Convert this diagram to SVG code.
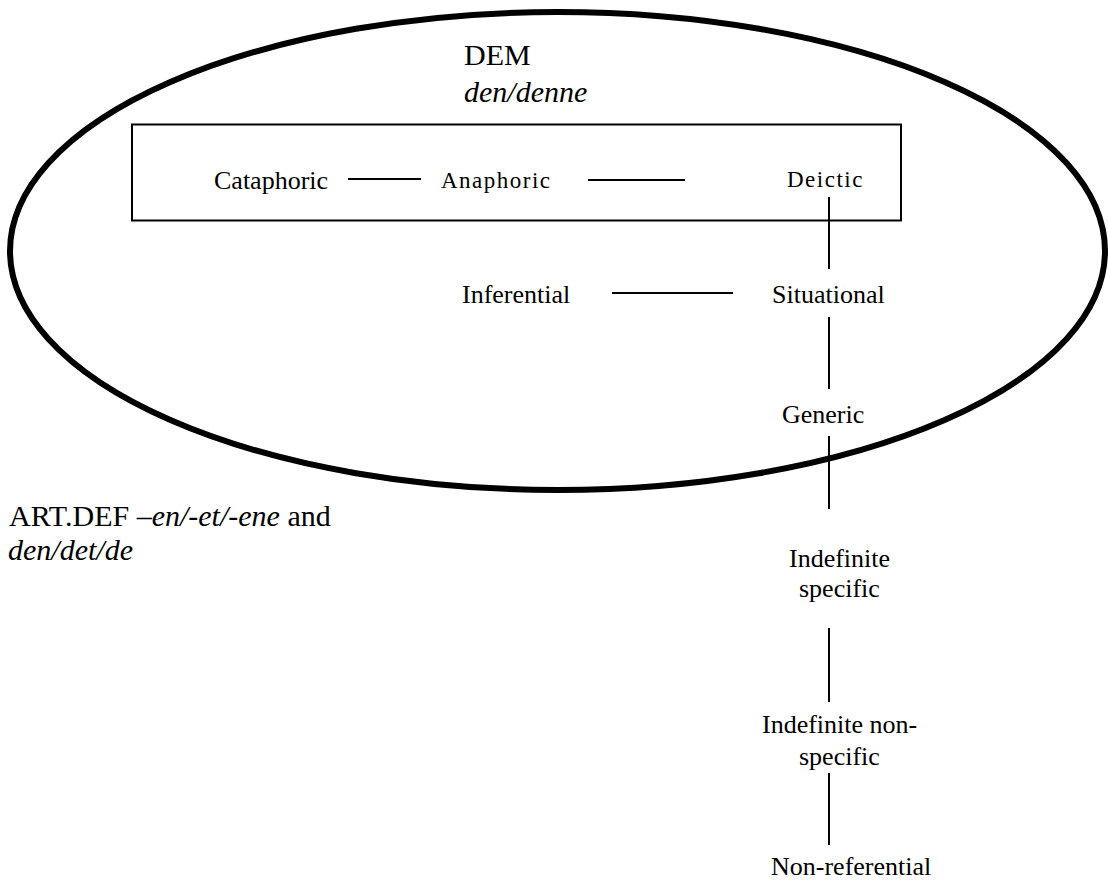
<svg xmlns="http://www.w3.org/2000/svg" width="1108" height="884" viewBox="0 0 1108 884">
<style>
text{font-family:'Liberation Serif','Times New Roman',Times,serif;font-size:26px;fill:#000}
.big{font-size:30px}
.it{font-style:italic}
.g{font-size:23px;letter-spacing:1.5px}
.ln{stroke:#000;stroke-width:2;fill:none}
</style>
<rect width="1108" height="884" fill="#fff"/>
<g id="dem-region">
<ellipse cx="557.5" cy="251" rx="547.5" ry="239" fill="none" stroke="#000" stroke-width="6"/>
<text class="big" x="464" y="65">DEM</text>
<text class="big it" x="464" y="102">den/denne</text>
</g>
<g id="box">
<rect x="132" y="124.5" width="769" height="96" fill="none" stroke="#000" stroke-width="2"/>
</g>
<g id="cataphoric"><text x="214" y="189">Cataphoric</text></g>
<g id="anaphoric"><text class="g" x="441" y="188">Anaphoric</text></g>
<g id="deictic"><text class="g" x="787" y="187">Deictic</text></g>
<g id="inferential"><text x="462" y="303">Inferential</text></g>
<g id="situational"><text x="772" y="303">Situational</text></g>
<g id="generic"><text x="782" y="423">Generic</text></g>
<g id="indef-specific"><text x="789" y="567">Indefinite</text><text x="799" y="597">specific</text></g>
<g id="indef-nonspecific"><text x="762" y="733">Indefinite non-</text><text x="799" y="765">specific</text></g>
<g id="nonreferential"><text x="771" y="875">Non-referential</text></g>
<g id="artdef"><text class="big" x="9" y="526">ART.DEF <tspan class="it">–en/-et/-ene</tspan> and</text><text class="big it" x="8" y="560">den/det/de</text></g>
<g id="connectors">
<line class="ln" x1="348" y1="179" x2="421" y2="179"/>
<line class="ln" x1="588" y1="180" x2="685" y2="180"/>
<line class="ln" x1="612" y1="293" x2="733" y2="293"/>
<line class="ln" x1="829" y1="197" x2="829" y2="269"/>
<line class="ln" x1="829" y1="317" x2="829" y2="389"/>
<line class="ln" x1="829" y1="436" x2="829" y2="509"/>
<line class="ln" x1="829" y1="628" x2="829" y2="702"/>
<line class="ln" x1="829" y1="773" x2="829" y2="845"/>
</g>
</svg>
